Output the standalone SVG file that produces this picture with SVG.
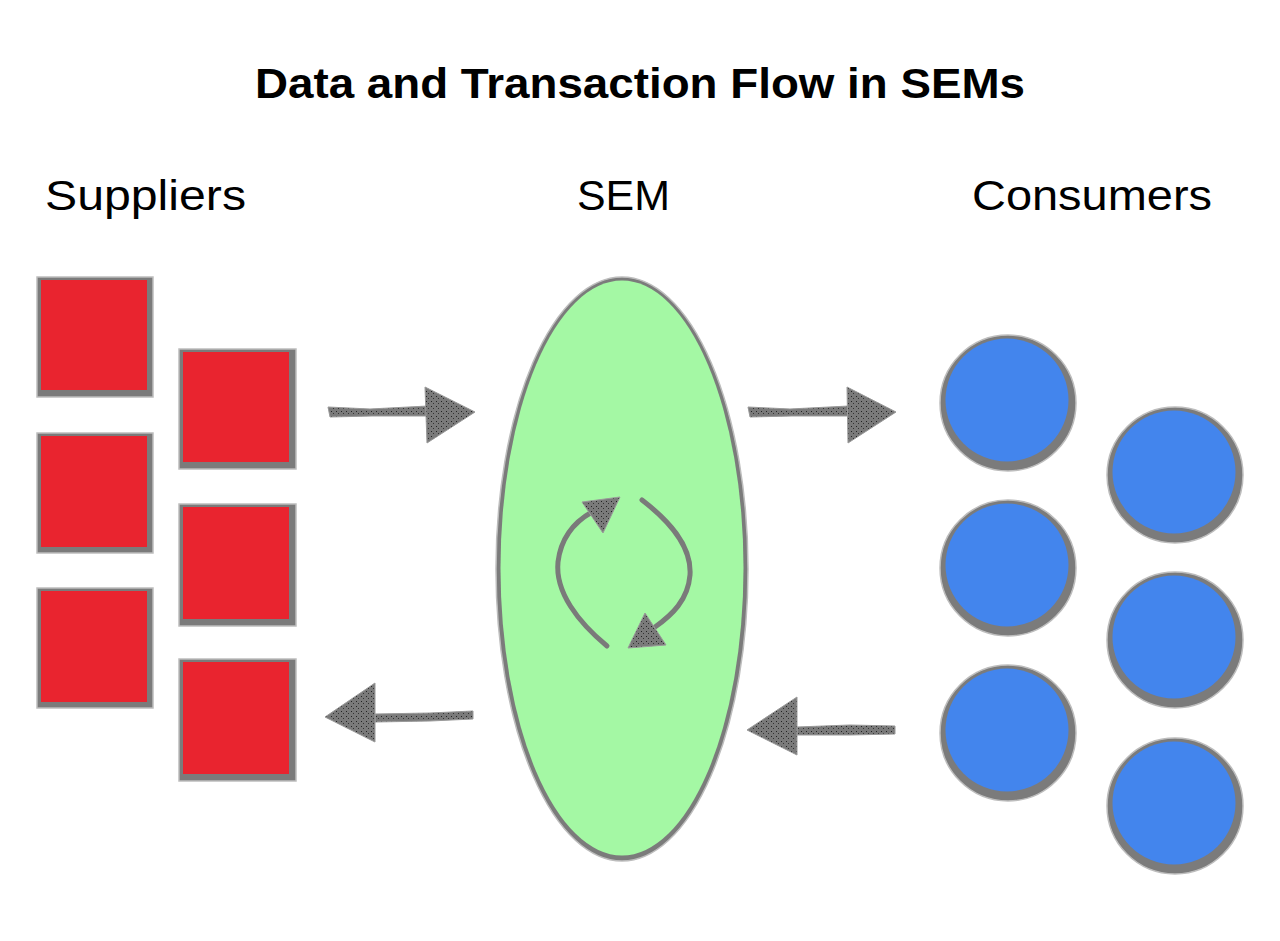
<svg xmlns="http://www.w3.org/2000/svg" width="1280" height="941" viewBox="0 0 1280 941">
<defs>
<pattern id="stip" width="5" height="5" patternUnits="userSpaceOnUse">
<rect width="5" height="5" fill="#7a7a7a"/>
<rect x="1" y="1" width="1" height="1" fill="#222"/>
<rect x="3" y="3" width="1" height="1" fill="#333"/>
</pattern>
</defs>
<style>
.t{font-family:"Liberation Sans",Arial,sans-serif;fill:#000}
.title{font-size:43px;font-weight:bold}
.lbl{font-size:43px}
.sqo{fill:#7b7b7b;stroke:#bdbdbd;stroke-width:1.5}
.sqi{fill:#e9242f}
.cio{fill:#7b7b7b;stroke:#bdbdbd;stroke-width:1.5}
.cii{fill:#4385ed}
.arr{fill:url(#stip);stroke:#9a9a9a;stroke-width:1}
.cyc{fill:none;stroke:#7a7a7a;stroke-width:5;stroke-linecap:round}
</style>
<rect width="1280" height="941" fill="#ffffff"/>
<text class="t title" x="640" y="98" text-anchor="middle" textLength="770" lengthAdjust="spacingAndGlyphs">Data and Transaction Flow in SEMs</text>
<text class="t lbl" x="45" y="210" textLength="201" lengthAdjust="spacingAndGlyphs">Suppliers</text>
<text class="t lbl" x="577" y="210" textLength="93" lengthAdjust="spacingAndGlyphs">SEM</text>
<text class="t lbl" x="972" y="210" textLength="240" lengthAdjust="spacingAndGlyphs">Consumers</text>

<g id="suppliers">
<g id="supplier1"><rect class="sqo" x="37" y="277" width="116" height="120"/><rect class="sqi" x="41" y="280" width="106" height="110"/></g>
<g id="supplier2"><rect class="sqo" x="37" y="433" width="116" height="120"/><rect class="sqi" x="41" y="436" width="106" height="111"/></g>
<g id="supplier3"><rect class="sqo" x="37" y="588" width="116" height="120"/><rect class="sqi" x="41" y="591" width="106" height="111"/></g>
<g id="supplier4"><rect class="sqo" x="179" y="349" width="117" height="120"/><rect class="sqi" x="183" y="352" width="106" height="110"/></g>
<g id="supplier5"><rect class="sqo" x="179" y="504" width="117" height="122"/><rect class="sqi" x="183" y="507" width="106" height="112"/></g>
<g id="supplier6"><rect class="sqo" x="179" y="659" width="117" height="122"/><rect class="sqi" x="183" y="662" width="106" height="112"/></g>
</g>

<g id="sem">
<ellipse cx="622" cy="569" rx="126" ry="292" fill="#7b7b7b" stroke="#bdbdbd" stroke-width="1.5"/>
<ellipse cx="622" cy="568" rx="121.5" ry="287.5" fill="#a4f8a4"/>
<path class="cyc" d="M607,646 C578,622 555,592 558,562 C561,537 576,521 592,512"/>
<polygon class="arr" points="582,502 620,497 603,533"/>
<path class="cyc" d="M642,500 C668,520 692,545 690,575 C688,600 672,615 655,627"/>
<polygon class="arr" points="628,648 645,613 666,645"/>
</g>

<g id="consumers">
<g id="consumer1"><circle class="cio" cx="1008" cy="403" r="68"/><circle class="cii" cx="1007" cy="400" r="61.5"/></g>
<g id="consumer2"><circle class="cio" cx="1008" cy="568" r="68"/><circle class="cii" cx="1007" cy="565" r="61.5"/></g>
<g id="consumer3"><circle class="cio" cx="1008" cy="733" r="68"/><circle class="cii" cx="1007" cy="730" r="61.5"/></g>
<g id="consumer4"><circle class="cio" cx="1175" cy="475" r="68"/><circle class="cii" cx="1174" cy="472" r="61.5"/></g>
<g id="consumer5"><circle class="cio" cx="1175" cy="640" r="68"/><circle class="cii" cx="1174" cy="637" r="61.5"/></g>
<g id="consumer6"><circle class="cio" cx="1175" cy="806" r="68"/><circle class="cii" cx="1174" cy="803" r="61.5"/></g>
</g>

<g id="connectors">
<g id="arrow-suppliers-sem">
<polygon class="arr" points="328,407 370,409 428,406 428,416 372,416 330,417"/>
<polygon class="arr" points="425,387 475,412 427,443"/>
</g>
<g id="arrow-sem-consumers">
<polygon class="arr" points="748,407 790,409 849,406 849,416 792,416 750,417"/>
<polygon class="arr" points="847,387 896,412 848,443"/>
</g>
<g id="arrow-sem-suppliers">
<polygon class="arr" points="473,711 430,713 375,714 375,722 430,721 473,719"/>
<polygon class="arr" points="325,717 375,683 375,742"/>
</g>
<g id="arrow-consumers-sem">
<polygon class="arr" points="895,726 850,725 797,727 797,735 850,735 895,734"/>
<polygon class="arr" points="747,730 797,697 797,755"/>
</g>
</g>
</svg>
